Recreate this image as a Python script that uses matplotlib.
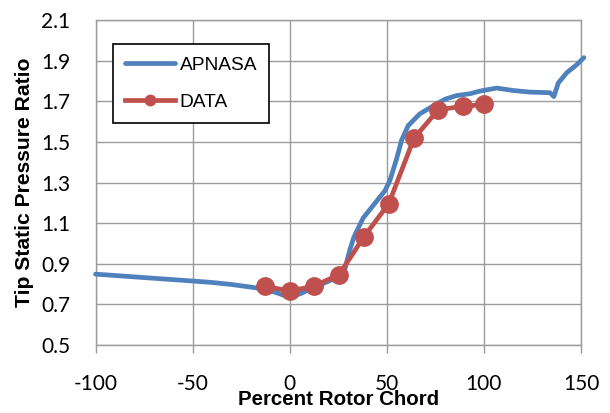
import matplotlib
matplotlib.use("Agg")
import matplotlib.pyplot as plt

plt.rcParams["axes.unicode_minus"] = False

# APNASA prediction along the casing (percent rotor chord, static pressure ratio)
apnasa_x = [-100, -75, -50, -40, -30, -20, -12, -6, 0, 6, 12, 19, 25, 28, 31, 33,
            35, 37.8, 43.8, 49, 51.5, 55, 57.6, 61, 67, 75.6, 80, 85.9, 92.8, 98,
            101.4, 106.5, 115, 123.7, 134, 136, 138.3, 142.6, 147.8, 151.5]
apnasa_y = [0.849, 0.832, 0.815, 0.808, 0.798, 0.785, 0.773, 0.755, 0.733, 0.755,
            0.782, 0.81, 0.835, 0.86, 0.97, 1.03, 1.07, 1.125, 1.197, 1.259, 1.308,
            1.415, 1.508, 1.58, 1.638, 1.687, 1.71, 1.728, 1.737, 1.75, 1.756,
            1.765, 1.753, 1.745, 1.742, 1.723, 1.79, 1.84, 1.88, 1.915]

# measured tip static pressure
data_x = [-12.5, 0, 12.5, 25.5, 38, 51, 64, 76.5, 89, 100]
data_y = [0.79, 0.765, 0.79, 0.847, 1.03, 1.196, 1.518, 1.658, 1.675, 1.684]

x_ticks = [-100, -50, 0, 50, 100, 150]
y_ticks = [0.5, 0.7, 0.9, 1.1, 1.3, 1.5, 1.7, 1.9, 2.1]

BLUE = "#4F81BD"
RED = "#C0504D"
GRID = "#9c9c9c"

fig = plt.figure(figsize=(6.10, 4.13), dpi=100)
ax = fig.add_axes([0.1566, 0.1646, 0.7959, 0.787])

ax.plot(apnasa_x, apnasa_y, color=BLUE, lw=3.4, label="APNASA",
        solid_capstyle="round", solid_joinstyle="round", clip_on=False, zorder=3)
ax.plot(data_x, data_y, color=RED, lw=3.4, marker="o", markersize=12.5,
        solid_joinstyle="round", label="DATA", zorder=4)

ax.set_xlim(-100, 150)
ax.set_ylim(0.5, 2.1)
ax.set_xticks(x_ticks)
ax.set_yticks(y_ticks)
ax.set_yticklabels([f"{v:.1f}" for v in y_ticks])

ax.grid(True, color=GRID, lw=1.0)
ax.set_axisbelow(True)
for sp in ax.spines.values():
    sp.set_color(GRID)
    sp.set_linewidth(1.0)

ax.tick_params(axis="x", direction="out", length=5.4, width=1.0, color=GRID,
               pad=15.5)
ax.tick_params(axis="y", length=0, pad=18)
for lab in ax.get_xticklabels() + ax.get_yticklabels():
    lab.set_family(["Lato", "DejaVu Sans"])
    lab.set_fontsize(15)

ax.set_xlabel("Percent Rotor Chord", family="Liberation Sans",
              fontweight="bold", fontsize=14.8)
ax.xaxis.set_label_coords(0.5, -0.138)
ax.set_ylabel("Tip Static Pressure Ratio", family="Liberation Sans",
              fontweight="bold", fontsize=15.2)
ax.yaxis.set_label_coords(-0.127, 0.5)

leg = ax.legend(loc="upper left", bbox_to_anchor=(112.7 / 610, 1 - 44.3 / 413),
                bbox_transform=fig.transFigure, fancybox=False, framealpha=1,
                edgecolor="black", borderpad=0.64, handlelength=2.6,
                handletextpad=0.25, labelspacing=1.0, borderaxespad=0,
                markerscale=0.6, prop={"family": "Liberation Sans", "size": 13.8})
leg.get_frame().set_linewidth(1.2)

fig.savefig("out.png", dpi=100)
